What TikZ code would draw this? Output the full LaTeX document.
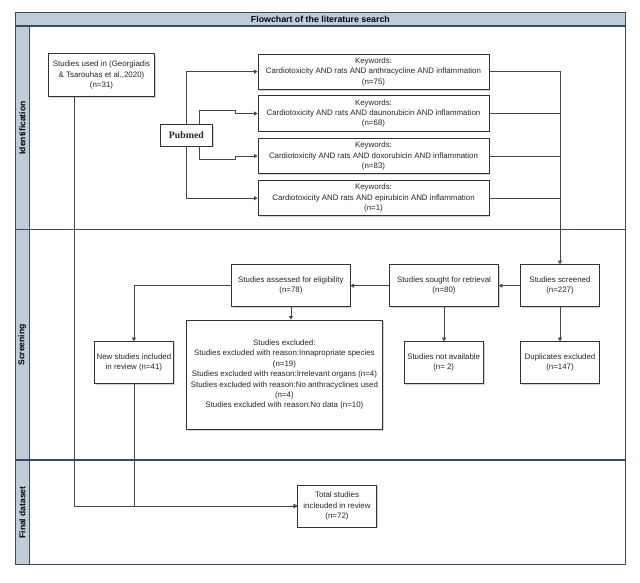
\documentclass[tikz,border=0pt]{standalone}
\usepackage{fontspec}
\setmainfont{Liberation Sans}
\newfontfamily\pubfont{Liberation Serif}
\usetikzlibrary{arrows.meta,shadows}
\definecolor{lanefill}{RGB}{191,205,219}
\definecolor{laneline}{RGB}{52,76,102}
\definecolor{boxline}{RGB}{51,51,51}
\definecolor{edgecol}{RGB}{70,70,70}
\begin{document}
\begin{tikzpicture}[x=1pt,y=-1pt,
  box/.style={draw=boxline, fill=white, line width=0.8pt, inner sep=1pt, align=center,
    text=black!85, font=\fontsize{7.9}{10.4}\selectfont,
    drop shadow={shadow xshift=1.3pt, shadow yshift=-1.3pt, opacity=0.35, fill=gray}},
  edge/.style={draw=edgecol, line width=0.8pt},
  arr/.style={edge, -{Triangle[length=3.6pt,width=4pt]}},
  lanelabel/.style={font=\fontsize{8.5}{10}\selectfont\bfseries, rotate=90},
  frame/.style={draw=laneline, line width=1.1pt}
]
\useasboundingbox (0,0) rectangle (640,582);
\fill[white] (0,0) rectangle (640,582);
% swimlane frame
\fill[lanefill] (15.4,12.5) rectangle (625.3,26);
\fill[lanefill] (15.4,26) rectangle (29.2,564.5);
\draw[frame] (15.4,26) -- (625.3,26);
\draw[frame] (29.2,26) -- (29.2,564.5);
\draw[frame] (15.4,229.5) -- (625.3,229.5);
\draw[frame] (15.4,460) -- (625.3,460);
\draw[frame] (15.4,12.5) rectangle (625.3,564.5);
\node[font=\fontsize{8.8}{10}\selectfont\bfseries] (title) at (320.4,19.3) {Flowchart of the literature search};
\node[lanelabel] (idlab) at (22.3,128) {Identification};
\node[lanelabel] (sclab) at (22.3,345) {Screening};
\node[lanelabel] (fdlab) at (22.3,512.5) {Final dataset};
% nodes
\node[box, minimum width=105.5pt, minimum height=43pt] (S) at (101.5,75.3) {Studies used in (Georgiadis\\\& Tsarouhas et al.,2020)\\(n=31)};
\node[box, minimum width=231pt, minimum height=35.3pt] (kw1) at (373.5,71.7) {Keywords:\\Cardiotoxicity AND rats AND anthracycline AND inflammation\\(n=75)};
\node[box, minimum width=231pt, minimum height=35.3pt] (kw2) at (373.5,113.5) {Keywords:\\Cardiotoxicity AND rats AND daunorubicin AND inflammation\\(n=68)};
\node[box, minimum width=231pt, minimum height=35.3pt] (kw3) at (373.5,156) {Keywords:\\Cardiotoxicity AND rats AND doxorubicin AND inflammation\\(n=83)};
\node[box, minimum width=231pt, minimum height=35.3pt] (kw4) at (373.5,198.2) {Keywords:\\Cardiotoxicity AND rats AND epirubicin AND inflammation\\(n=1)};
\node[box, minimum width=52.7pt, minimum height=21.7pt, font=\pubfont\fontsize{9.8}{11}\selectfont\bfseries] (P) at (186.4,135.2) {Pubmed};
\node[box, minimum width=78.3pt, minimum height=42pt] (Sc) at (560,285.7) {Studies screened\\(n=227)};
\node[box, minimum width=108.7pt, minimum height=42pt] (So) at (444,285.7) {Studies sought for retrieval\\(n=80)};
\node[box, minimum width=118.3pt, minimum height=42pt] (A) at (290.9,285.7) {Studies assessed for eligibility\\(n=78)};
\node[box, minimum width=78.6pt, minimum height=41.6pt] (N) at (133.9,362.5) {New studies included\\in review (n=41)};
\node[box, minimum width=195.8pt, minimum height=109.3pt] (E) at (284.4,374.6) {Studies excluded:\\Studies excluded with reason:Innapropriate species\\(n=19)\\Studies excluded with reason:Irrelevant organs (n=4)\\Studies excluded with reason:No anthracyclines used\\(n=4)\\Studies excluded with reason:No data (n=10)};
\node[box, minimum width=79.6pt, minimum height=41.6pt] (NA) at (443.7,362.5) {Studies not available\\(n= 2)};
\node[box, minimum width=78.3pt, minimum height=41.6pt] (D) at (560,362.5) {Duplicates excluded\\(n=147)};
\node[box, minimum width=78.6pt, minimum height=42pt] (T) at (337,506) {Total studies\\incleuded in review\\(n=72)};
% connectors
\draw[arr] ([xshift=-26.8pt]S.south) |- (T.west);
\draw[arr] (N.south) |- (T.west);
\draw[arr] (P.north) |- (kw1.west);
\draw[arr] (P.south) |- (kw4.west);
\draw[arr] ([xshift=13pt]P.north) |- (235,110.7) |- (kw2.west);
\draw[arr] ([xshift=13pt]P.south) |- (235,159.3) |- (kw3.west);
\draw[arr] (kw1.east) -| (Sc.north);
\draw[edge] (kw2.east) -- (kw2.east -| Sc.north);
\draw[edge] (kw3.east) -- (kw3.east -| Sc.north);
\draw[edge] (kw4.east) -- (kw4.east -| Sc.north);
\draw[arr] (Sc.west) -- (So.east);
\draw[arr] (So.west) -- (A.east);
\draw[arr] (A.west) -| (N.north);
\draw[arr] (A.south) -- (A.south |- E.north);
\draw[arr] (So.south) -- (So.south |- NA.north);
\draw[arr] (Sc.south) -- (D.north);
\end{tikzpicture}
\end{document}
